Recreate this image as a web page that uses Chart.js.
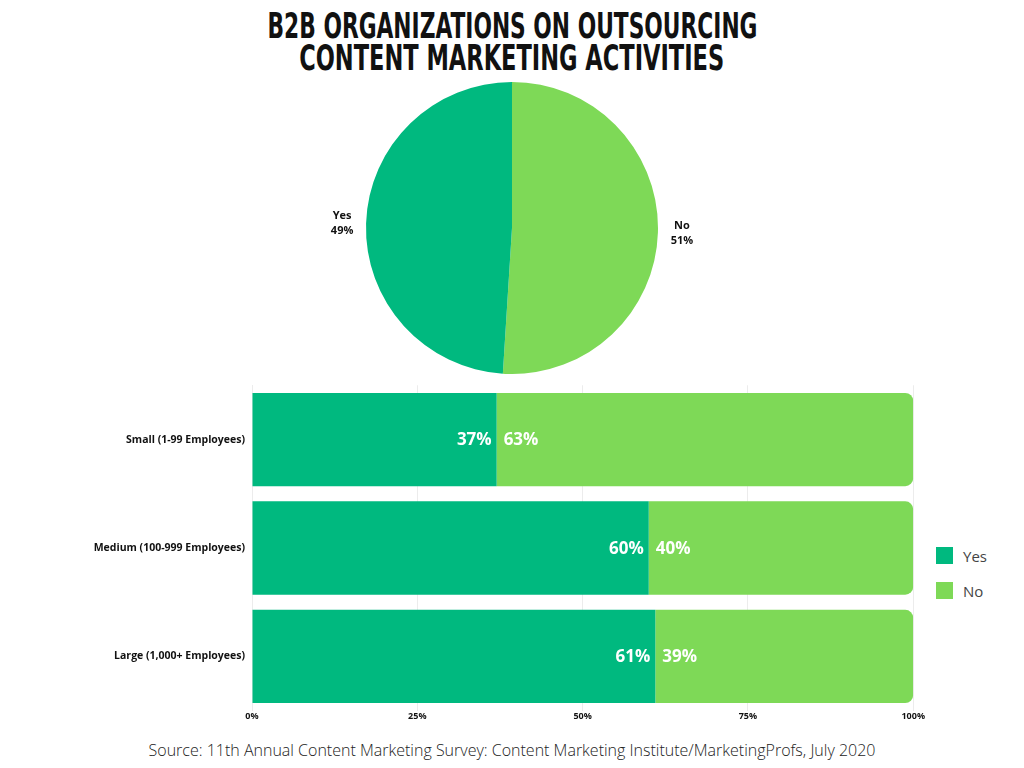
<!DOCTYPE html>
<html>
<head>
<meta charset="utf-8">
<script src="https://cdn.jsdelivr.net/npm/chart.js@4"></script>
<style>
  body { margin: 0; background: #fff; width: 1024px; height: 768px; overflow: hidden; position: relative; font-family: "Open Sans", sans-serif; }
  #title { position: absolute; top: 10px; left: 0; width: 1024px; text-align: center; }
  #title div { display: block; font-family: "Liberation Sans Narrow", "DejaVu Sans Condensed", sans-serif; font-weight: bold; font-size: 36px; line-height: 32px; color: #111; white-space: nowrap; }
  #title span { display: inline-block; transform-origin: center; }
  #pieWrap { position: absolute; left: 0; top: 82px; width: 1024px; height: 292px; }
  #barWrap { position: absolute; left: 0; top: 372px; width: 925px; height: 352px; }
  #legend { position: absolute; left: 936px; top: 547px; font-size: 15px; color: #444; }
  #legend .item { display: flex; align-items: center; height: 17px; margin-bottom: 18px; }
  #legend .sw { width: 17px; height: 17px; margin-right: 10px; }
  #source { position: absolute; left: 0; width: 1024px; top: 739px; text-align: center; font-size: 16px; font-weight: 300; color: #222; }
</style>
</head>
<body>
<div id="title"><div><span>B2B ORGANIZATIONS ON OUTSOURCING</span></div><div><span>CONTENT MARKETING ACTIVITIES</span></div></div>
<div id="pieWrap"><canvas id="pieChart"></canvas></div>
<div id="barWrap"><canvas id="barChart"></canvas></div>
<div id="legend"></div>
<div id="source">Source: 11th Annual Content Marketing Survey: Content Marketing Institute/MarketingProfs, July 2020</div>
<script>
// Overall answer split
const pieLabels = ['No', 'Yes'];
const pieValues = [51, 49];

// By company size
const sizes = ['Small (1-99 Employees)', 'Medium (100-999 Employees)', 'Large (1,000+ Employees)'];
const yesValues = [37, 60, 61];
const noValues = [63, 40, 39];
const seriesNames = ['Yes', 'No'];
const colors = { Yes: '#00b97f', No: '#7ed957' };

// squeeze title lines to the width of the reference
const titleWidths = [490, 425];
document.querySelectorAll('#title span').forEach((s, i) => {
    const w = s.getBoundingClientRect().width;
    s.style.transform = 'scaleX(' + (titleWidths[i] / w) + ')';
});

Chart.defaults.font.family = '"Open Sans", sans-serif';
Chart.defaults.color = '#111';

const pieLabelPlugin = {
    id: 'pieLabels',
    afterDatasetsDraw(chart) {
        const ctx = chart.ctx;
        const meta = chart.getDatasetMeta(0);
        ctx.save();
        ctx.font = 'bold 11px "Open Sans", sans-serif';
        ctx.fillStyle = '#111';
        ctx.textAlign = 'center';
        ctx.textBaseline = 'middle';
        meta.data.forEach((arc, i) => {
            const mid = (arc.startAngle + arc.endAngle) / 2;
            const r = arc.outerRadius + 24;
            const x = arc.x + Math.cos(mid) * r;
            const y = arc.y + Math.sin(mid) * r;
            ctx.fillText(pieLabels[i], x, y - 7);
            ctx.fillText(pieValues[i] + '%', x, y + 8);
        });
        ctx.restore();
    }
};

new Chart(document.getElementById('pieChart'), {
    type: 'pie',
    data: {
        labels: pieLabels,
        datasets: [{
            data: pieValues,
            backgroundColor: pieLabels.map(l => colors[l]),
            borderWidth: 0
        }]
    },
    options: {
        responsive: true,
        maintainAspectRatio: false,
        animation: false,
        plugins: { legend: { display: false }, tooltip: { enabled: false } }
    },
    plugins: [pieLabelPlugin]
});

const barLabelPlugin = {
    id: 'barLabels',
    afterDatasetsDraw(chart) {
        const ctx = chart.ctx;
        ctx.save();
        ctx.font = 'bold 17px "Open Sans", sans-serif';
        ctx.fillStyle = '#fff';
        ctx.textBaseline = 'middle';
        const yesMeta = chart.getDatasetMeta(0);
        const noMeta = chart.getDatasetMeta(1);
        yesMeta.data.forEach((bar, i) => {
            ctx.textAlign = 'right';
            ctx.fillText(yesValues[i] + '%', bar.x - 5, bar.y + 1);
        });
        noMeta.data.forEach((bar, i) => {
            ctx.textAlign = 'left';
            ctx.fillText(noValues[i] + '%', bar.base + 7, bar.y + 1);
        });
        ctx.restore();
    }
};

new Chart(document.getElementById('barChart'), {
    type: 'bar',
    data: {
        labels: sizes,
        datasets: [
            { label: 'Yes', data: yesValues, backgroundColor: colors.Yes, borderSkipped: 'start' },
            { label: 'No', data: noValues, backgroundColor: colors.No, borderRadius: 8, borderSkipped: 'start' }
        ]
    },
    options: {
        indexAxis: 'y',
        responsive: true,
        maintainAspectRatio: false,
        animation: false,
        layout: { padding: { top: 0, right: 10, bottom: 0, left: 0 } },
        datasets: { bar: { categoryPercentage: 1, barPercentage: 0.86 } },
        scales: {
            x: {
                stacked: true,
                min: 0,
                max: 100,
                ticks: { stepSize: 25, padding: 0, callback: v => v + '%', font: { size: 9, weight: 'bold' }, color: '#111' },
                grid: { color: '#ececec', drawTicks: false },
                border: { display: false }
            },
            y: {
                stacked: true,
                afterFit(scale) { scale.width = 252; },
                ticks: { padding: 7, font: { size: 10.5, weight: 'bold' }, color: '#111' },
                grid: { display: false, drawTicks: false },
                border: { color: '#ececec' }
            }
        },
        plugins: { legend: { display: false }, tooltip: { enabled: false } }
    },
    plugins: [barLabelPlugin]
});

const legend = document.getElementById('legend');
seriesNames.forEach(n => {
    const item = document.createElement('div');
    item.className = 'item';
    item.innerHTML = '<div class="sw" style="background:' + colors[n] + '"></div><span>' + n + '</span>';
    legend.appendChild(item);
});
</script>
</body>
</html>
